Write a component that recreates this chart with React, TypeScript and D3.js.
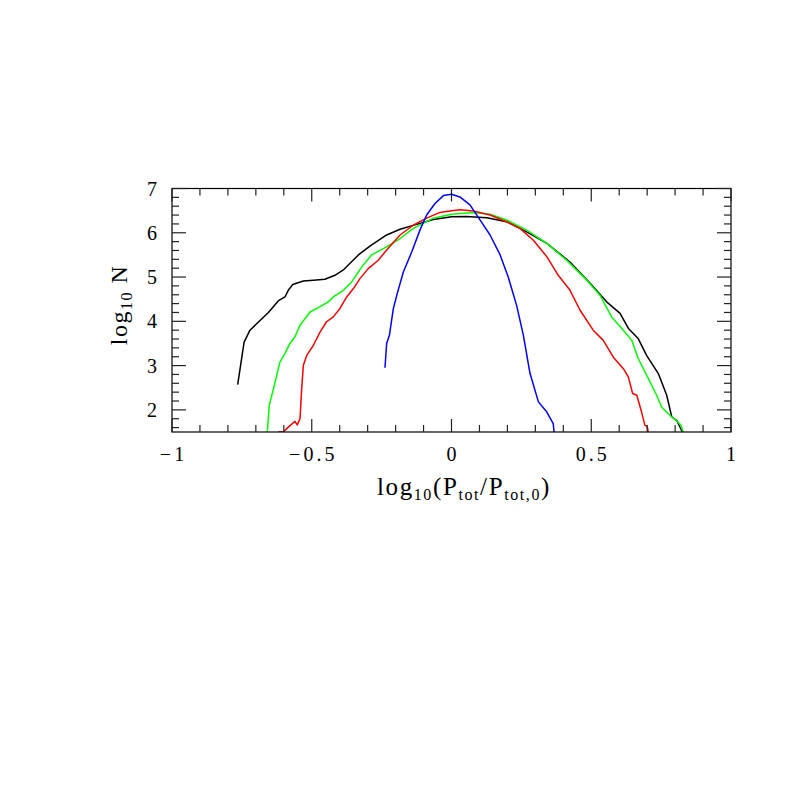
import React from "react";
import * as d3 from "d3";

// ---- data (log10(Ptot/Ptot,0), log10 N) ----
const blackX = [-0.765, -0.742, -0.721, -0.685, -0.655, -0.62, -0.596, -0.584, -0.568, -0.53, -0.494, -0.453, -0.417, -0.387, -0.363, -0.333, -0.292, -0.232, -0.184, -0.125, -0.065, 0.0, 0.054, 0.126, 0.197, 0.269, 0.341, 0.424, 0.496, 0.555, 0.603, 0.633, 0.668, 0.698, 0.74, 0.77, 0.788, 0.806, 0.826];
const blackY = [2.57, 3.53, 3.8, 4.02, 4.2, 4.46, 4.55, 4.7, 4.83, 4.91, 4.93, 4.95, 5.04, 5.16, 5.31, 5.5, 5.7, 5.95, 6.08, 6.19, 6.3, 6.36, 6.37, 6.34, 6.25, 6.02, 5.76, 5.34, 4.86, 4.44, 4.18, 3.84, 3.61, 3.23, 2.82, 2.33, 1.84, 1.76, 1.5];

const greenX = [-0.659, -0.652, -0.631, -0.614, -0.596, -0.578, -0.56, -0.542, -0.506, -0.47, -0.441, -0.423, -0.387, -0.357, -0.321, -0.286, -0.232, -0.184, -0.137, -0.065, 0.0, 0.078, 0.138, 0.197, 0.269, 0.341, 0.412, 0.484, 0.531, 0.573, 0.615, 0.645, 0.668, 0.704, 0.734, 0.752, 0.788, 0.811, 0.82, 0.829];
const greenY = [1.5, 2.1, 2.63, 3.08, 3.27, 3.5, 3.65, 3.91, 4.21, 4.33, 4.44, 4.55, 4.7, 4.89, 5.23, 5.5, 5.68, 5.87, 6.1, 6.33, 6.42, 6.46, 6.42, 6.29, 6.06, 5.76, 5.38, 4.93, 4.59, 4.1, 3.8, 3.57, 3.16, 2.71, 2.33, 2.06, 1.84, 1.72, 1.66, 1.5];

const redX = [-0.62, -0.602, -0.584, -0.56, -0.552, -0.542, -0.536, -0.53, -0.518, -0.494, -0.47, -0.447, -0.423, -0.399, -0.375, -0.351, -0.327, -0.298, -0.262, -0.232, -0.184, -0.137, -0.089, -0.041, 0.0, 0.03, 0.078, 0.138, 0.197, 0.245, 0.293, 0.341, 0.382, 0.424, 0.46, 0.507, 0.543, 0.579, 0.615, 0.633, 0.648, 0.663, 0.68, 0.692, 0.7, 0.704];
const redY = [1.5, 1.5, 1.61, 1.74, 1.66, 1.8, 2.48, 3.01, 3.23, 3.46, 3.76, 3.99, 4.1, 4.29, 4.55, 4.74, 4.97, 5.19, 5.38, 5.61, 5.95, 6.17, 6.33, 6.46, 6.5, 6.52, 6.49, 6.4, 6.25, 6.1, 5.83, 5.46, 5.04, 4.7, 4.25, 3.8, 3.57, 3.19, 2.93, 2.74, 2.37, 2.33, 1.95, 1.65, 1.63, 1.5];

const blueX = [-0.238, -0.232, -0.222, -0.208, -0.194, -0.172, -0.142, -0.113, -0.089, -0.059, -0.029, 0.0, 0.03, 0.066, 0.102, 0.138, 0.174, 0.203, 0.233, 0.257, 0.281, 0.311, 0.341, 0.364, 0.367];
const blueY = [2.95, 3.5, 3.69, 4.29, 4.63, 5.12, 5.57, 6.06, 6.4, 6.66, 6.84, 6.87, 6.81, 6.63, 6.29, 5.95, 5.5, 5.0, 4.36, 3.69, 2.82, 2.18, 1.95, 1.69, 1.5];

const xTickValues = [-1, -0.5, 0, 0.5, 1];
const xTickLabels = ["\u22121", "\u22120.5", "0", "0.5", "1"];
const yTickValues = [2, 3, 4, 5, 6, 7];
const yTickLabels = ["2", "3", "4", "5", "6", "7"];

const series = [
  { xs: blackX, ys: blackY, color: "#000000" },
  { xs: greenX, ys: greenY, color: "#00ff00" },
  { xs: redX, ys: redY, color: "#ff0000" },
  { xs: blueX, ys: blueY, color: "#0000ff" },
];

export default function App() {
  const W = 797, H = 797;
  const left = 172, right = 731, top = 188.5, bottom = 432;
  const x = d3.scaleLinear().domain([-1, 1]).range([left, right]);
  const y = d3.scaleLinear().domain([1.5, 7]).range([bottom, top]);

  const line = d3.line<[number, number]>().x((d) => x(d[0])).y((d) => y(d[1])).curve(d3.curveMonotoneX);

  const xMinor = d3.range(-10, 11).map((i) => i / 10).filter((v) => Math.abs(v * 2 - Math.round(v * 2)) > 1e-6);
  const yMinor = d3.range(8, 36).map((i) => i / 5).filter((v) => v >= 1.5 && v <= 7 && Math.abs(v - Math.round(v)) > 1e-6);

  const font = "'Liberation Serif', 'Times New Roman', serif";
  const tickColor = "#222";

  return (
    <svg width={W} height={H} style={{ position: "absolute", left: 0, top: 0, background: "#fff" }}>
      <defs>
        <clipPath id="plotclip">
          <rect x={left} y={top} width={right - left} height={bottom - top} />
        </clipPath>
      </defs>
      <rect x={0} y={0} width={W} height={H} fill="#fff" />
      <g clipPath="url(#plotclip)">
        {series.map((s, i) => (
          <path
            key={i}
            d={d3.line<[number, number]>().x((d) => x(d[0])).y((d) => y(d[1]))(s.xs.map((v, j) => [v, s.ys[j]] as [number, number])) || ""}
            fill="none"
            stroke={s.color}
            strokeWidth={1.5}
            strokeLinejoin="round"
          />
        ))}
      </g>
      {/* frame */}
      <rect x={left} y={top} width={right - left} height={bottom - top} fill="none" stroke="#000" strokeWidth={1.2} />
      {/* x ticks */}
      {xTickValues.map((v) => (
        <g key={"xm" + v}>
          <line x1={x(v)} x2={x(v)} y1={bottom} y2={bottom - 13} stroke={tickColor} strokeWidth={1.2} />
          <line x1={x(v)} x2={x(v)} y1={top} y2={top + 13} stroke={tickColor} strokeWidth={1.2} />
        </g>
      ))}
      {xMinor.map((v) => (
        <g key={"xn" + v}>
          <line x1={x(v)} x2={x(v)} y1={bottom} y2={bottom - 7} stroke={tickColor} strokeWidth={1.2} />
          <line x1={x(v)} x2={x(v)} y1={top} y2={top + 7} stroke={tickColor} strokeWidth={1.2} />
        </g>
      ))}
      {/* y ticks */}
      {yTickValues.map((v) => (
        <g key={"ym" + v}>
          <line x1={left} x2={left + 14} y1={y(v)} y2={y(v)} stroke={tickColor} strokeWidth={1.2} />
          <line x1={right} x2={right - 14} y1={y(v)} y2={y(v)} stroke={tickColor} strokeWidth={1.2} />
        </g>
      ))}
      {yMinor.map((v) => (
        <g key={"yn" + v}>
          <line x1={left} x2={left + 7} y1={y(v)} y2={y(v)} stroke={tickColor} strokeWidth={1.2} />
          <line x1={right} x2={right - 7} y1={y(v)} y2={y(v)} stroke={tickColor} strokeWidth={1.2} />
        </g>
      ))}
      {/* x tick labels */}
      {xTickValues.map((v, i) => (
        <text key={"xl" + v} x={x(v) + 1.5} y={461} textAnchor="middle" fontFamily={font} fontSize={20} letterSpacing={3} fill="#000">
          {xTickLabels[i]}
        </text>
      ))}
      {/* y tick labels */}
      {yTickValues.map((v, i) => (
        <text key={"yl" + v} x={157} y={y(v) + 7} textAnchor="end" fontFamily={font} fontSize={20} fill="#000">
          {yTickLabels[i]}
        </text>
      ))}
      {/* x axis label */}
      <text x={464} y={495} textAnchor="middle" fontFamily={font} fontSize={25} letterSpacing={1.6} fill="#000">
        log<tspan fontSize={16} dy={5}>10</tspan>
        <tspan dy={-5}>(P</tspan>
        <tspan fontSize={16} dy={5}>tot</tspan>
        <tspan dy={-5}>/P</tspan>
        <tspan fontSize={16} dy={5}>tot,0</tspan>
        <tspan dy={-5}>)</tspan>
      </text>
      {/* y axis label */}
      <text transform={`translate(127, 305) rotate(-90)`} textAnchor="middle" fontFamily={font} fontSize={24} letterSpacing={1.5} fill="#000">
        log<tspan fontSize={16} dy={5}>10</tspan>
        <tspan dy={-5}> N</tspan>
      </text>
    </svg>
  );
}
